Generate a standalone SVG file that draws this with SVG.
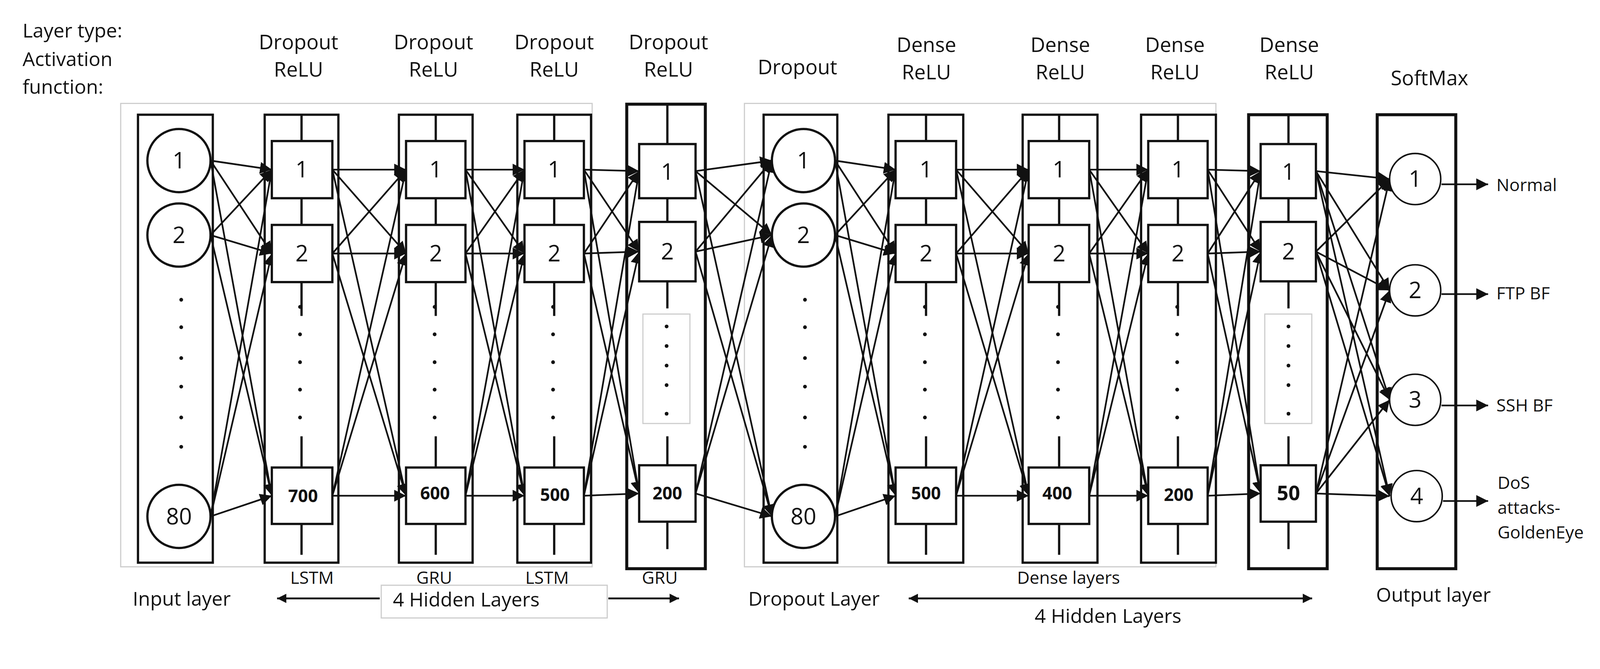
<svg xmlns="http://www.w3.org/2000/svg" width="4264" height="1712" viewBox="0 0 4264 1712">
<style>
text{font-family:"Open Sans","Liberation Sans",sans-serif;fill:#111}
.col{fill:none;stroke:#111;stroke-width:6}
.colb{fill:none;stroke:#111;stroke-width:8}
.gray{fill:none;stroke:#ccc;stroke-width:3}
.box{fill:#fff;stroke:#111;stroke-width:6}
.cl{stroke:#111;stroke-width:6}
.hd{font-size:54px;text-anchor:middle}
.num{font-size:60px;text-anchor:middle}
.numb{font-size:46px;text-anchor:middle;font-weight:bold}
.lb{font-size:52px}
.sm{font-size:46px;text-anchor:middle}
#edges line{stroke:#111;stroke-width:4.5;marker-end:url(#ah)}
.dot{fill:#111}
</style>
<defs>
<marker id="ah" viewBox="0 0 10 10" refX="10" refY="5" markerWidth="7" markerHeight="7" markerUnits="strokeWidth" orient="auto"><path d="M0,0L10,5L0,10z" fill="#111"/></marker>
<marker id="ah2" viewBox="0 0 10 10" refX="10" refY="5" markerWidth="5" markerHeight="5" markerUnits="strokeWidth" orient="auto-start-reverse"><path d="M0,0L10,5L0,10z" fill="#111"/></marker>
</defs>
<rect width="4264" height="1712" fill="#fff"/>
<g transform="scale(0.9625)">
<g id="titles">
<text class="lb" x="60" y="100">Layer type:</text>
<text class="lb" x="60" y="176">Activation</text>
<text class="lb" x="60" y="249">function:</text>
<text class="hd" x="794" y="131">Dropout</text><text class="hd" x="794" y="204">ReLU</text>
<text class="hd" x="1153" y="131">Dropout</text><text class="hd" x="1153" y="204">ReLU</text>
<text class="hd" x="1474" y="131">Dropout</text><text class="hd" x="1474" y="204">ReLU</text>
<text class="hd" x="1778" y="131">Dropout</text><text class="hd" x="1778" y="204">ReLU</text>
<text class="hd" x="2121" y="197">Dropout</text>
<text class="hd" x="2464" y="138">Dense</text><text class="hd" x="2464" y="211">ReLU</text>
<text class="hd" x="2820" y="138">Dense</text><text class="hd" x="2820" y="211">ReLU</text>
<text class="hd" x="3125" y="138">Dense</text><text class="hd" x="3125" y="211">ReLU</text>
<text class="hd" x="3429" y="138">Dense</text><text class="hd" x="3429" y="211">ReLU</text>
<text class="hd" x="3802" y="227">SoftMax</text>
</g>
<rect class="gray" x="321" y="275" width="1254" height="1232"/>
<rect class="gray" x="1980" y="275" width="1254" height="1232"/>
<g id="input">
<rect class="col" x="367" y="305" width="199" height="1191"/>
<circle class="box" cx="476" cy="427" r="84"/><text class="num" x="476" y="448">1</text>
<circle class="box" cx="476" cy="625" r="84"/><text class="num" x="476" y="646">2</text>
<circle class="box" cx="476" cy="1373" r="84"/><text class="num" x="476" y="1394">80</text>
<g class="dot"><circle cx="482" cy="797" r="5"/><circle cx="482" cy="870" r="5"/><circle cx="482" cy="952" r="5"/><circle cx="482" cy="1028" r="5"/><circle cx="482" cy="1110" r="5"/><circle cx="482" cy="1188" r="5"/></g>
</g>
<g id="dropout">
<rect class="col" x="2031" y="305" width="196" height="1191"/>
<circle class="box" cx="2137" cy="427" r="84"/><text class="num" x="2137" y="448">1</text>
<circle class="box" cx="2137" cy="625" r="84"/><text class="num" x="2137" y="646">2</text>
<circle class="box" cx="2137" cy="1373" r="84"/><text class="num" x="2137" y="1394">80</text>
<g class="dot"><circle cx="2141" cy="797" r="5"/><circle cx="2141" cy="870" r="5"/><circle cx="2141" cy="952" r="5"/><circle cx="2141" cy="1028" r="5"/><circle cx="2141" cy="1110" r="5"/><circle cx="2141" cy="1188" r="5"/></g>
</g>
<g id="edges">
<line x1="560" y1="427" x2="723" y2="451"/><line x1="560" y1="427" x2="723" y2="674"/><line x1="560" y1="427" x2="723" y2="1318"/>
<line x1="560" y1="625" x2="723" y2="451"/><line x1="560" y1="625" x2="723" y2="674"/><line x1="560" y1="625" x2="723" y2="1318"/>
<line x1="560" y1="1373" x2="723" y2="451"/><line x1="560" y1="1373" x2="723" y2="674"/><line x1="560" y1="1373" x2="723" y2="1318"/>
<line x1="884" y1="451" x2="1080" y2="451"/><line x1="884" y1="451" x2="1080" y2="674"/><line x1="884" y1="451" x2="1080" y2="1318"/>
<line x1="884" y1="674" x2="1080" y2="451"/><line x1="884" y1="674" x2="1080" y2="674"/><line x1="884" y1="674" x2="1080" y2="1318"/>
<line x1="884" y1="1318" x2="1080" y2="451"/><line x1="884" y1="1318" x2="1080" y2="674"/><line x1="884" y1="1318" x2="1080" y2="1318"/>
<line x1="1238" y1="451" x2="1395" y2="451"/><line x1="1238" y1="451" x2="1395" y2="674"/><line x1="1238" y1="451" x2="1395" y2="1318"/>
<line x1="1238" y1="674" x2="1395" y2="451"/><line x1="1238" y1="674" x2="1395" y2="674"/><line x1="1238" y1="674" x2="1395" y2="1318"/>
<line x1="1238" y1="1318" x2="1395" y2="451"/><line x1="1238" y1="1318" x2="1395" y2="674"/><line x1="1238" y1="1318" x2="1395" y2="1318"/>
<line x1="1553" y1="451" x2="1700" y2="455"/><line x1="1553" y1="451" x2="1700" y2="669"/><line x1="1553" y1="451" x2="1700" y2="1312"/>
<line x1="1553" y1="674" x2="1700" y2="455"/><line x1="1553" y1="674" x2="1700" y2="669"/><line x1="1553" y1="674" x2="1700" y2="1312"/>
<line x1="1553" y1="1318" x2="1700" y2="455"/><line x1="1553" y1="1318" x2="1700" y2="669"/><line x1="1553" y1="1318" x2="1700" y2="1312"/>
<line x1="1850" y1="455" x2="2053" y2="427"/><line x1="1850" y1="455" x2="2053" y2="625"/><line x1="1850" y1="455" x2="2053" y2="1373"/>
<line x1="1850" y1="669" x2="2053" y2="427"/><line x1="1850" y1="669" x2="2053" y2="625"/><line x1="1850" y1="669" x2="2053" y2="1373"/>
<line x1="1850" y1="1312" x2="2053" y2="427"/><line x1="1850" y1="1312" x2="2053" y2="625"/><line x1="1850" y1="1312" x2="2053" y2="1373"/>
<line x1="2221" y1="427" x2="2382" y2="451"/><line x1="2221" y1="427" x2="2382" y2="674"/><line x1="2221" y1="427" x2="2382" y2="1318"/>
<line x1="2221" y1="625" x2="2382" y2="451"/><line x1="2221" y1="625" x2="2382" y2="674"/><line x1="2221" y1="625" x2="2382" y2="1318"/>
<line x1="2221" y1="1373" x2="2382" y2="451"/><line x1="2221" y1="1373" x2="2382" y2="674"/><line x1="2221" y1="1373" x2="2382" y2="1318"/>
<line x1="2543" y1="451" x2="2736" y2="451"/><line x1="2543" y1="451" x2="2736" y2="674"/><line x1="2543" y1="451" x2="2736" y2="1318"/>
<line x1="2543" y1="674" x2="2736" y2="451"/><line x1="2543" y1="674" x2="2736" y2="674"/><line x1="2543" y1="674" x2="2736" y2="1318"/>
<line x1="2543" y1="1318" x2="2736" y2="451"/><line x1="2543" y1="1318" x2="2736" y2="674"/><line x1="2543" y1="1318" x2="2736" y2="1318"/>
<line x1="2897" y1="451" x2="3054" y2="451"/><line x1="2897" y1="451" x2="3054" y2="674"/><line x1="2897" y1="451" x2="3054" y2="1318"/>
<line x1="2897" y1="674" x2="3054" y2="451"/><line x1="2897" y1="674" x2="3054" y2="674"/><line x1="2897" y1="674" x2="3054" y2="1318"/>
<line x1="2897" y1="1318" x2="3054" y2="451"/><line x1="2897" y1="1318" x2="3054" y2="674"/><line x1="2897" y1="1318" x2="3054" y2="1318"/>
<line x1="3212" y1="451" x2="3353" y2="455"/><line x1="3212" y1="451" x2="3353" y2="669"/><line x1="3212" y1="451" x2="3353" y2="1312"/>
<line x1="3212" y1="674" x2="3353" y2="455"/><line x1="3212" y1="674" x2="3353" y2="669"/><line x1="3212" y1="674" x2="3353" y2="1312"/>
<line x1="3212" y1="1318" x2="3353" y2="455"/><line x1="3212" y1="1318" x2="3353" y2="669"/><line x1="3212" y1="1318" x2="3353" y2="1312"/>
<line x1="3500" y1="455" x2="3696" y2="476"/><line x1="3500" y1="455" x2="3696" y2="772"/><line x1="3500" y1="455" x2="3696" y2="1063"/><line x1="3500" y1="455" x2="3696" y2="1319"/>
<line x1="3500" y1="669" x2="3696" y2="476"/><line x1="3500" y1="669" x2="3696" y2="772"/><line x1="3500" y1="669" x2="3696" y2="1063"/><line x1="3500" y1="669" x2="3696" y2="1319"/>
<line x1="3500" y1="1312" x2="3696" y2="476"/><line x1="3500" y1="1312" x2="3696" y2="772"/><line x1="3500" y1="1312" x2="3696" y2="1063"/><line x1="3500" y1="1312" x2="3696" y2="1319"/>
<line x1="3834" y1="490" x2="3958" y2="490"/><line x1="3834" y1="782" x2="3958" y2="782"/><line x1="3834" y1="1078" x2="3958" y2="1078"/><line x1="3838" y1="1332" x2="3958" y2="1332"/>
</g>
<g id="h1">
<rect class="col" x="704" y="305" width="196" height="1191"/>
<path class="cl" d="M802 305V375M802 527V598M802 750V840M802 1160V1243M802 1393V1475"/>
<rect class="box" x="723" y="375" width="161" height="152"/><text class="num" x="803" y="472">1</text>
<rect class="box" x="723" y="598" width="161" height="152"/><text class="num" x="803" y="695">2</text>
<rect class="box" x="723" y="1243" width="161" height="150"/><text class="numb" x="806" y="1335">700</text>
<g class="dot"><circle cx="798" cy="816" r="5"/><circle cx="798" cy="889" r="5"/><circle cx="798" cy="963" r="5"/><circle cx="798" cy="1036" r="5"/><circle cx="798" cy="1110" r="5"/></g>
</g>
<g id="h2">
<rect class="col" x="1061" y="305" width="196" height="1191"/>
<path class="cl" d="M1159 305V375M1159 527V598M1159 750V840M1159 1160V1243M1159 1393V1475"/>
<rect class="box" x="1080" y="375" width="158" height="152"/><text class="num" x="1159" y="472">1</text>
<rect class="box" x="1080" y="598" width="158" height="152"/><text class="num" x="1159" y="695">2</text>
<rect class="box" x="1080" y="1243" width="158" height="150"/><text class="numb" x="1157" y="1328">600</text>
<g class="dot"><circle cx="1156" cy="816" r="5"/><circle cx="1156" cy="889" r="5"/><circle cx="1156" cy="963" r="5"/><circle cx="1156" cy="1036" r="5"/><circle cx="1156" cy="1110" r="5"/></g>
</g>
<g id="h3">
<rect class="col" x="1376" y="305" width="196" height="1191"/>
<path class="cl" d="M1474 305V375M1474 527V598M1474 750V840M1474 1160V1243M1474 1393V1475"/>
<rect class="box" x="1395" y="375" width="158" height="152"/><text class="num" x="1474" y="472">1</text>
<rect class="box" x="1395" y="598" width="158" height="152"/><text class="num" x="1474" y="695">2</text>
<rect class="box" x="1395" y="1243" width="158" height="150"/><text class="numb" x="1476" y="1332">500</text>
<g class="dot"><circle cx="1471" cy="816" r="5"/><circle cx="1471" cy="889" r="5"/><circle cx="1471" cy="963" r="5"/><circle cx="1471" cy="1036" r="5"/><circle cx="1471" cy="1110" r="5"/></g>
</g>
<g id="h4">
<rect class="colb" x="1667" y="277" width="209" height="1235"/>
<path class="cl" d="M1775 277V383M1775 527V590M1775 748V820M1775 1160V1237M1775 1387V1460"/>
<rect class="box" x="1700" y="383" width="150" height="144"/><text class="num" x="1775" y="478">1</text>
<rect class="box" x="1700" y="590" width="150" height="158"/><text class="num" x="1775" y="690">2</text>
<rect class="box" x="1700" y="1237" width="150" height="150"/><text class="numb" x="1775" y="1328">200</text>
<rect class="gray" x="1710" y="835" width="125" height="291"/>
<g class="dot"><circle cx="1773" cy="868" r="5"/><circle cx="1773" cy="920" r="5"/><circle cx="1773" cy="972" r="5"/><circle cx="1773" cy="1024" r="5"/><circle cx="1773" cy="1100" r="5"/></g>
</g>
<g id="d1">
<rect class="col" x="2363" y="305" width="199" height="1191"/>
<path class="cl" d="M2463 305V375M2463 527V598M2463 750V840M2463 1160V1243M2463 1393V1475"/>
<rect class="box" x="2382" y="375" width="161" height="152"/><text class="num" x="2463" y="472">1</text>
<rect class="box" x="2382" y="598" width="161" height="152"/><text class="num" x="2463" y="695">2</text>
<rect class="box" x="2382" y="1243" width="161" height="150"/><text class="numb" x="2463" y="1328">500</text>
<g class="dot"><circle cx="2460" cy="816" r="5"/><circle cx="2460" cy="889" r="5"/><circle cx="2460" cy="963" r="5"/><circle cx="2460" cy="1036" r="5"/><circle cx="2460" cy="1110" r="5"/></g>
</g>
<g id="d2">
<rect class="col" x="2720" y="305" width="199" height="1191"/>
<path class="cl" d="M2817 305V375M2817 527V598M2817 750V840M2817 1160V1243M2817 1393V1475"/>
<rect class="box" x="2736" y="375" width="161" height="152"/><text class="num" x="2817" y="472">1</text>
<rect class="box" x="2736" y="598" width="161" height="152"/><text class="num" x="2817" y="695">2</text>
<rect class="box" x="2736" y="1243" width="161" height="150"/><text class="numb" x="2812" y="1328">400</text>
<g class="dot"><circle cx="2814" cy="816" r="5"/><circle cx="2814" cy="889" r="5"/><circle cx="2814" cy="963" r="5"/><circle cx="2814" cy="1036" r="5"/><circle cx="2814" cy="1110" r="5"/></g>
</g>
<g id="d3">
<rect class="col" x="3035" y="305" width="199" height="1191"/>
<path class="cl" d="M3133 305V375M3133 527V598M3133 750V840M3133 1160V1243M3133 1393V1475"/>
<rect class="box" x="3054" y="375" width="158" height="152"/><text class="num" x="3133" y="472">1</text>
<rect class="box" x="3054" y="598" width="158" height="152"/><text class="num" x="3133" y="695">2</text>
<rect class="box" x="3054" y="1243" width="158" height="150"/><text class="numb" x="3135" y="1332">200</text>
<g class="dot"><circle cx="3131" cy="816" r="5"/><circle cx="3131" cy="889" r="5"/><circle cx="3131" cy="963" r="5"/><circle cx="3131" cy="1036" r="5"/><circle cx="3131" cy="1110" r="5"/></g>
</g>
<g id="d4">
<rect class="colb" x="3321" y="305" width="209" height="1207"/>
<path class="cl" d="M3427 305V383M3427 527V590M3427 748V820M3427 1160V1237M3427 1387V1460"/>
<rect class="box" x="3353" y="383" width="147" height="144"/><text class="num" x="3427" y="478">1</text>
<rect class="box" x="3353" y="590" width="147" height="158"/><text class="num" x="3427" y="690">2</text>
<rect class="box" x="3353" y="1237" width="147" height="150"/><text class="numb" x="3427" y="1330" style="font-size:54px">50</text>
<rect class="gray" x="3364" y="835" width="125" height="291"/>
<g class="dot"><circle cx="3427" cy="868" r="5"/><circle cx="3427" cy="920" r="5"/><circle cx="3427" cy="972" r="5"/><circle cx="3427" cy="1024" r="5"/><circle cx="3427" cy="1100" r="5"/></g>
</g>
<g id="output">
<rect class="colb" x="3663" y="305" width="209" height="1207"/>
<circle class="box" cx="3764" cy="476" r="68" style="stroke-width:4"/><text class="num" x="3764" y="497">1</text>
<circle class="box" cx="3764" cy="772" r="68" style="stroke-width:4"/><text class="num" x="3764" y="793">2</text>
<circle class="box" cx="3764" cy="1063" r="68" style="stroke-width:4"/><text class="num" x="3764" y="1084">3</text>
<circle class="box" cx="3768" cy="1319" r="68" style="stroke-width:4"/><text class="num" x="3768" y="1340">4</text>
<text class="lb" x="3980" y="508" style="font-size:46px">Normal</text>
<text class="lb" x="3980" y="796" style="font-size:46px">FTP BF</text>
<text class="lb" x="3980" y="1094" style="font-size:46px">SSH BF</text>
<text class="lb" x="3983" y="1300" style="font-size:46px">DoS</text>
<text class="lb" x="3983" y="1366" style="font-size:46px">attacks-</text>
<text class="lb" x="3983" y="1432" style="font-size:46px">GoldenEye</text>
</g>
<g id="bottom">
<text class="sm" x="830" y="1552">LSTM</text>
<text class="sm" x="1155" y="1552">GRU</text>
<text class="sm" x="1455" y="1552">LSTM</text>
<text class="sm" x="1755" y="1552">GRU</text>
<text class="lb" x="353" y="1610">Input layer</text>
<line x1="1010" y1="1591" x2="737" y2="1591" stroke="#111" stroke-width="5" marker-end="url(#ah2)"/>
<rect class="gray" x="1014" y="1556" width="601" height="87"/>
<text class="lb" x="1045" y="1612">4 Hidden Layers</text>
<line x1="1618" y1="1591" x2="1806" y2="1591" stroke="#111" stroke-width="5" marker-end="url(#ah2)"/>
<text class="lb" x="1990" y="1610">Dropout Layer</text>
<text class="sm" x="2842" y="1552">Dense layers</text>
<line x1="2417" y1="1591" x2="3490" y2="1591" stroke="#111" stroke-width="5" marker-start="url(#ah2)" marker-end="url(#ah2)"/>
<text class="lb" x="2752" y="1656">4 Hidden Layers</text>
<text class="lb" x="3660" y="1600">Output layer</text>
</g>
</g>
</svg>
